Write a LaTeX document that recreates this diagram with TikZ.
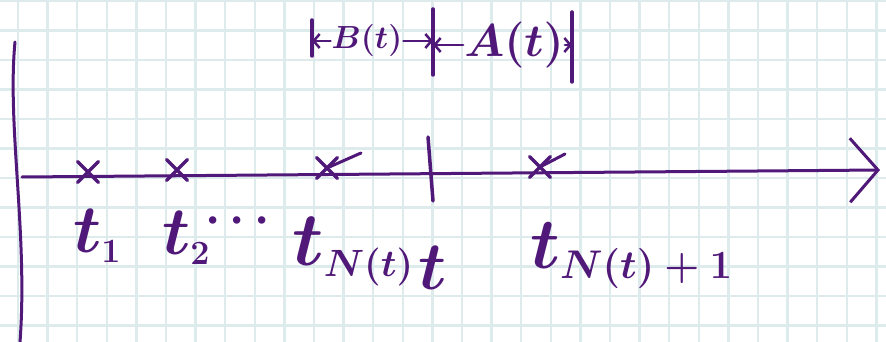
\RequirePackage{fix-cm}
\documentclass[tikz,border=0pt]{standalone}
\usetikzlibrary{arrows.meta,positioning,shapes.misc}
\definecolor{ink}{RGB}{80,24,120}
\definecolor{gridc}{RGB}{221,235,236}

\begin{document}
\begin{tikzpicture}[x=1pt, y=-1pt, line cap=round, line join=round,
  pen/.style={draw=ink, line width=3pt},
  ev/.style={cross out, draw=ink, line width=3.2pt, minimum size=18pt, inner sep=0pt},
  lab/.style={text=ink, inner sep=0pt, anchor=base west, font=\fontsize{68}{68}\selectfont\boldmath},
  toplab/.style={text=ink, inner sep=1pt, font=\fontsize{#1}{#1}\selectfont\boldmath},
  harr/.style={pen, line width=2.5pt, -{Straight Barb[length=6pt, width=14pt]}}]
  \useasboundingbox[fill=white] (0,0) rectangle (886,342);
  % paper grid
  \foreach \i in {0,...,29} \draw[gridc, line width=2.4pt] (18+29.6*\i,0) -- (18+29.6*\i,342);
  \foreach \j in {0,...,11} \draw[gridc, line width=2.4pt] (0,1+29.5*\j) -- (886,1+29.5*\j);
  % axes
  \coordinate (o) at (22,177);
  \coordinate (tip) at (880,170);
  \draw[pen] (15,42) .. controls (7,125) and (28,235) .. (20,342);
  \draw[pen, -{Straight Barb[length=28pt, width=64pt]}] (o) -- (tip);
  % arrival times
  \node[ev] (x1) at (88,172) {};
  \node[ev] (x2) at (177,170) {};
  \node[ev] (x3) at (327,168) {};
  \node[ev] (x4) at (540,167) {};
  \draw[pen] (x3.center) -- ++(34,-15);
  \draw[pen] (x4.center) -- ++(25,-13);
  \coordinate (now) at (430,169);
  \draw[pen, line width=3.5pt] ([shift={(-2,-32)}]now) -- ([shift={(3,32)}]now);
  \node[lab] (l1) at (73,252) {$t_{\scriptscriptstyle 1}$};
  \node[lab] (l2) at (162,254) {$t_{\scriptscriptstyle 2}$};
  \node[lab, font=\fontsize{48}{48}\selectfont\boldmath] (dots) at (205,232) {$\cdots$};
  \node[lab, font=\fontsize{76}{76}\selectfont\boldmath] (lN) at (292,265) {$t_{\scriptscriptstyle N(t)}$};
  \node[lab] (lt) at (418,289) {$t$};
  \node[lab, font=\fontsize{72}{72}\selectfont\boldmath] (lN1) at (530,268) {$t_{\mbox{\fontsize{40}{40}\selectfont\boldmath$N(t)+1$}}$};
  % backward and forward recurrence
  \coordinate (bl) at (312,38);
  \coordinate (bm) at (433,42);
  \coordinate (br) at (572,47);
  \draw[pen, line width=3.5pt] ([yshift=18pt]bl) -- ([yshift=-18pt]bl);
  \draw[pen, line width=3.5pt] ([yshift=33pt]bm) -- ([yshift=-33pt]bm);
  \draw[pen, line width=3.5pt] ([yshift=35pt]br) -- ([yshift=-35pt]br);
  \node[toplab=32] (B) at (367,41) {$B(t)$};
  \node[toplab=46] (A) at (514,45) {$A(t)$};
  \draw[harr] (B) -- (B -| bl);
  \draw[harr] (B) -- (B -| bm);
  \draw[harr] (A) -- (A -| bm);
  \draw[harr] (A) -- (A -| br);
\end{tikzpicture}
\end{document}
